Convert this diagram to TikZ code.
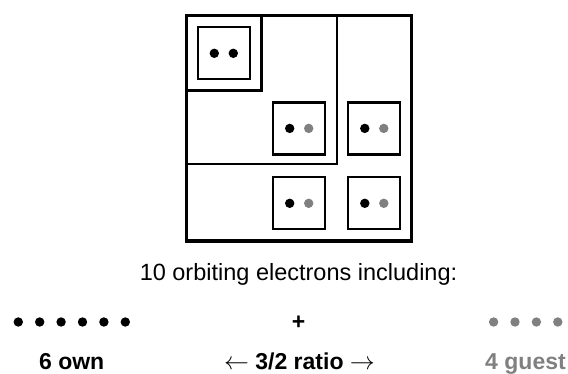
\documentclass[tikz,border=0pt]{standalone}
\usepackage{fontspec}
\setmainfont{Liberation Sans}
\usepackage{xcolor}
\usepackage{tikz}
\usetikzlibrary{positioning}

\begin{document}
\begin{tikzpicture}[x=1pt,y=-1pt,
    node distance=21.4pt,on grid,
    orbit/.style={rectangle,draw,line width=2.3pt,minimum size=52pt,inner sep=0pt},
    own/.style={circle,fill=black,minimum size=9.4pt,inner sep=0pt},
    guest/.style={circle,fill=black!50,minimum size=9.4pt,inner sep=0pt},
    caption/.style={font=\fontsize{23.5}{28}\selectfont,anchor=base},
    tally/.style={font=\fontsize{23}{28}\selectfont\bfseries,anchor=base}]
  \useasboundingbox (0,0) rectangle (568,374);

  % shells of the atom
  \draw[line width=2.1pt] (186.3,15.7) rectangle (336.7,164.3);
  \draw[line width=3.4pt] (186.3,15.7) rectangle (261.4,90.8);
  \draw[line width=3.4pt] (186.3,15.7) rectangle (411.7,241);

  % orbitals with their electron pairs
  \node[orbit] (b1) at (223.8,53.3) {};
  \node[orbit] (b2) at (299.2,128.4) {};
  \node[orbit] (b3) at (374.3,128.4) {};
  \node[orbit] (b4) at (299.2,203.3) {};
  \node[orbit] (b5) at (374.3,203.3) {};
  \node[own] (b1a) at ([xshift=-9.5pt]b1.center) {};
  \node[own] (b1b) at ([xshift=9.5pt]b1.center) {};
  \node[own] (b2a) at ([xshift=-9.5pt]b2.center) {};
  \node[guest] (b2b) at ([xshift=9.5pt]b2.center) {};
  \node[own] (b3a) at ([xshift=-9.5pt]b3.center) {};
  \node[guest] (b3b) at ([xshift=9.5pt]b3.center) {};
  \node[own] (b4a) at ([xshift=-9.5pt]b4.center) {};
  \node[guest] (b4b) at ([xshift=9.5pt]b4.center) {};
  \node[own] (b5a) at ([xshift=-9.5pt]b5.center) {};
  \node[guest] (b5b) at ([xshift=9.5pt]b5.center) {};

  \node[caption] (count) at (298.5,281) {10 orbiting electrons including:};

  % own electrons
  \node[own] (o1) at (18.3,322) {};
  \node[own, right=of o1] (o2) {};
  \node[own, right=of o2] (o3) {};
  \node[own, right=of o3] (o4) {};
  \node[own, right=of o4] (o5) {};
  \node[own, right=of o5] (o6) {};
  \node[tally] (plus) at (298.5,329.5) {+};
  % guest electrons
  \node[guest] (g1) at (493.6,322) {};
  \node[guest, right=of g1] (g2) {};
  \node[guest, right=of g2] (g3) {};
  \node[guest, right=of g3] (g4) {};

  \node[tally] (ownlabel) at (71.7,369.5) {6 own};
  \node[tally] (ratio) at (299.5,369.5) {$\leftarrow$ 3/2 ratio $\rightarrow$};
  \node[tally,text=black!50] (guestlabel) at (525.5,369.5) {4 guest};
\end{tikzpicture}
\end{document}
